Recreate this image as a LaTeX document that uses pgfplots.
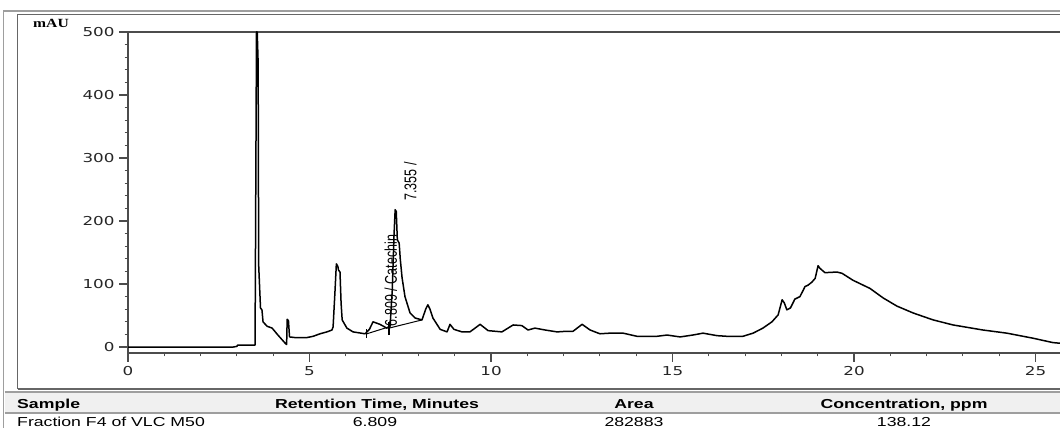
\documentclass[border=0pt]{standalone}
\usepackage{pgfplots}
\pgfplotsset{compat=1.18}
\usepackage{fontspec}
\setmainfont{Liberation Sans}
\newfontfamily\tblfont[FakeStretch=1.36]{Liberation Sans}
\newfontfamily\tickfont[FakeStretch=1.36]{DejaVu Sans}
\newfontfamily\maufont[FakeStretch=1.25]{Liberation Serif}
\newfontfamily\lblfont[FakeStretch=0.735]{Liberation Sans}
\definecolor{frameA}{gray}{0.62}
\definecolor{frameB}{gray}{0.40}
\definecolor{axisc}{gray}{0.30}
\definecolor{hdrbg}{gray}{0.94}

\pgfplotstableread{
t y
0 0
2.9 0
3.0 1
3.02 3
3.50 3
3.54 500
3.56 500
3.585 451
3.60 130
3.65 62
3.69 59
3.72 40
3.83 33
3.97 30
4.13 19
4.33 6
4.37 4
4.385 44
4.42 42
4.45 16
4.60 15
4.93 15
5.10 17
5.29 21
5.48 24
5.62 27
5.65 32
5.70 86
5.74 132
5.78 128
5.80 122
5.84 119
5.87 70
5.90 43
6.03 30
6.20 24
6.53 21
6.65 28
6.75 40
6.94 36
7.13 30
7.22 33
7.28 90
7.33 180
7.36 218
7.39 215
7.42 170
7.47 165
7.50 140
7.55 110
7.63 80
7.77 54
7.91 46
8.10 43
8.20 60
8.26 67
8.32 60
8.40 46
8.60 28
8.79 24
8.87 36
8.98 28
9.20 24
9.42 24
9.70 36
9.92 26
10.30 24
10.61 35
10.85 34
11.02 27
11.21 30
11.49 27
11.82 24
12.09 25
12.26 25
12.51 36
12.73 27
13.00 21
13.28 22
13.64 22
14.02 17
14.57 17
14.85 19
15.21 16
15.56 19
15.84 22
16.23 18
16.50 17
16.94 17
17.22 22
17.49 30
17.74 40
17.91 51
18.02 75
18.08 70
18.15 59
18.25 62
18.37 76
18.51 80
18.60 90
18.65 96
18.73 98
18.84 103
18.93 109
19.01 129
19.06 125
19.12 122
19.20 118
19.53 119
19.67 117
19.97 106
20.44 93
20.80 78
21.18 65
21.63 54
22.18 43
22.73 35
23.55 27
24.21 22
24.93 14
25.48 7
25.675 6
}\chrom

\begin{document}
\begin{tikzpicture}
\useasboundingbox (0pt,0pt) rectangle (1060pt,428pt);
\clip (0pt,0pt) rectangle (1060pt,428pt);
% header background of the table
\fill[hdrbg] (4.5pt,15pt) rectangle (1062pt,36pt);
\draw[frameA, line width=1.2pt] (4.5pt,36pt) -- (1062pt,36pt);
\draw[frameA, line width=1.2pt] (4.5pt,15pt) -- (1062pt,15pt);

\begin{axis}[
  at={(128pt,75pt)}, anchor=south west,
  scale only axis, width=932pt, height=321pt,
  xmin=0, xmax=25.675, ymin=-9.5, ymax=500,
  clip=false,
  axis x line*=bottom, axis y line*=left,
  axis line style={-, axisc, line width=1.1pt},
  xtick={0,5,10,15,20,25}, ytick={0,100,200,300,400,500},
  minor x tick num=4, minor y tick num=4,
  tick align=outside,
  major tick length=9pt, minor tick length=3.5pt,
  tick style={axisc, line width=1.1pt},
  ticklabel style={font=\tickfont\fontsize{12.3}{14}\selectfont, text=black!85},
  /pgf/number format/assume math mode=true,
  xticklabel style={yshift=-1pt},
  yticklabel style={xshift=-1pt},
]
\draw[axisc, line width=1.1pt] (rel axis cs:0,1) -- (rel axis cs:1.01,1);
\addplot[black, line width=1.5pt, line join=round] table[x=t, y=y] {\chrom};
% integration baselines and markers
\addplot[black, line width=1pt] coordinates {(6.58,21) (7.19,32)};
\addplot[black, line width=1pt] coordinates {(7.19,30) (8.10,43)};
\addplot[black, line width=1.2pt] coordinates {(6.58,14) (6.58,28)};
\addplot[black, line width=1.2pt] coordinates {(7.19,19) (7.19,40)};
\node[rotate=90, anchor=west, inner sep=0pt, font=\lblfont\fontsize{17}{18}\selectfont]
  at (axis cs:7.24,33) {6.809 / Catechin};
\node[rotate=90, anchor=west, inner sep=0pt, font=\lblfont\fontsize{17}{18}\selectfont]
  at (axis cs:7.78,232) {7.355 /};
\end{axis}

% frames
\draw[frameA, line width=1.5pt] (3.5pt,-2pt) -- (3.5pt,417pt) -- (1062pt,417pt);
\draw[frameB, line width=1.5pt] (17.5pt,39pt) -- (17.5pt,413.5pt) -- (1062pt,413.5pt);
\draw[frameB, line width=1.5pt] (17.5pt,39pt) -- (1062pt,39pt);

\node[anchor=center, inner sep=0pt, font=\maufont\bfseries\fontsize{12.5}{14}\selectfont] at (51pt,405pt) {mAU};

% table text
\node[anchor=base west, inner sep=0pt, font=\tblfont\bfseries\fontsize{13}{15}\selectfont] at (17pt,19pt) {Sample};
\node[anchor=base, inner sep=0pt, font=\tblfont\bfseries\fontsize{13}{15}\selectfont] at (377pt,19pt) {Retention Time, Minutes};
\node[anchor=base, inner sep=0pt, font=\tblfont\bfseries\fontsize{13}{15}\selectfont] at (634pt,19pt) {Area};
\node[anchor=base, inner sep=0pt, font=\tblfont\bfseries\fontsize{13}{15}\selectfont] at (904pt,19pt) {Concentration, ppm};
\node[anchor=base west, inner sep=0pt, font=\tblfont\fontsize{13}{15}\selectfont] at (17pt,1.6pt) {Fraction F4 of VLC M50};
\node[anchor=base, inner sep=0pt, font=\tblfont\fontsize{13}{15}\selectfont] at (375pt,1.6pt) {6.809};
\node[anchor=base, inner sep=0pt, font=\tblfont\fontsize{13}{15}\selectfont] at (634pt,1.6pt) {282883};
\node[anchor=base, inner sep=0pt, font=\tblfont\fontsize{13}{15}\selectfont] at (904pt,1.6pt) {138.12};
\end{tikzpicture}
\end{document}
